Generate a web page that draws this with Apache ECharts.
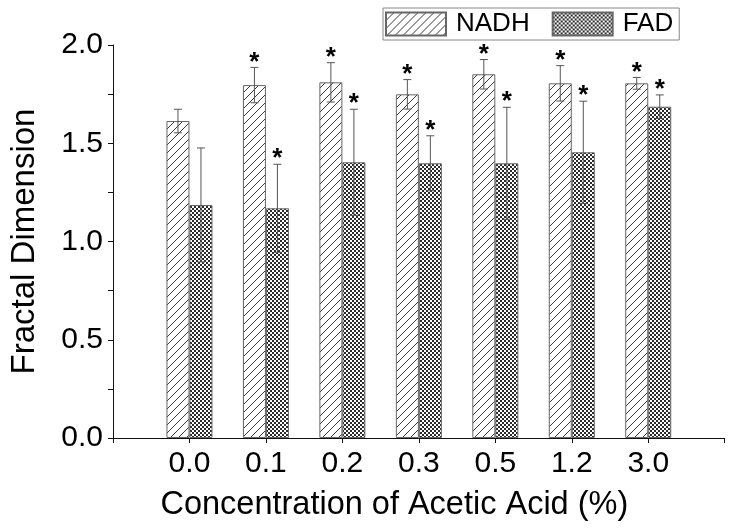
<!DOCTYPE html>
<html>
<head>
<meta charset="utf-8">
<script src="https://cdn.jsdelivr.net/npm/echarts@6/dist/echarts.min.js"></script>
<style>html,body{margin:0;padding:0;background:#fff}#c{width:734px;height:531px}</style>
</head>
<body>
<div id="c"></div>
<script>
var categories = ['0.0', '0.1', '0.2', '0.3', '0.5', '1.2', '3.0'];
var nadhValues = [1.613, 1.796, 1.810, 1.749, 1.851, 1.805, 1.805];
var nadhErrors = [0.06, 0.09, 0.10, 0.075, 0.075, 0.09, 0.03];
var nadhStars = [false, true, true, true, true, true, true];
var fadValues = [1.186, 1.169, 1.403, 1.398, 1.398, 1.454, 1.686];
var fadErrors = [0.29, 0.224, 0.27, 0.14, 0.285, 0.26, 0.06];
var fadStars = [false, true, true, true, true, true, true];
var yTicks = { min: 0, max: 2, interval: 0.5 };

var FONT = 'Liberation Sans, Arial, sans-serif';

function makePattern(fn, w, h, dark) {
  var cv = document.createElement('canvas');
  cv.width = w; cv.height = h;
  var ctx = cv.getContext('2d');
  ctx.fillStyle = '#ffffff';
  ctx.fillRect(0, 0, w, h);
  ctx.fillStyle = dark;
  for (var x = 0; x < w; x++) for (var y = 0; y < h; y++) if (fn(x, y)) ctx.fillRect(x, y, 1, 1);
  return cv;
}
var hatch = makePattern(function (x, y) { return (x + y) % 8 === 7; }, 8, 8, '#3a3a3a');
var cross = makePattern(function (x, y) { return (Math.floor(x / 2) + Math.floor(y / 2)) % 2 === 0; }, 4, 4, '#2a2a2a');

var axisCats = [''].concat(categories).concat(['']);

function errData(vals, errs, stars) {
  return vals.map(function (v, i) { return [i + 1, v, errs[i], stars[i] ? 1 : 0]; });
}

function makeErrRender(offset) {
  return function (params, api) {
    var x = api.value(0), v = api.value(1), e = api.value(2), s = api.value(3);
    var top = api.coord([x, v + e]);
    var bot = api.coord([x, v - e]);
    var cx = top[0] + offset;
    var cap = 4;
    var st = { stroke: '#555', lineWidth: 1 };
    var children = [
      { type: 'line', shape: { x1: cx, y1: top[1], x2: cx, y2: bot[1] }, style: st },
      { type: 'line', shape: { x1: cx - cap, y1: top[1], x2: cx + cap, y2: top[1] }, style: st },
      { type: 'line', shape: { x1: cx - cap, y1: bot[1], x2: cx + cap, y2: bot[1] }, style: st }
    ];
    if (s) {
      children.push({ type: 'text', x: cx, y: top[1] - 5, style: { text: '*', font: 'bold 26px ' + FONT, fill: '#000', align: 'center', verticalAlign: 'middle' } });
    }
    return { type: 'group', children: children };
  };
}

var chart = echarts.init(document.getElementById('c'), null, { renderer: 'canvas' });
chart.setOption({
  animation: false,
  backgroundColor: '#fff',
  grid: { left: 110, right: 9.3, top: 45, bottom: 93, containLabel: false },
  legend: {
    data: ['NADH', 'FAD'],
    left: 383, top: 8,
    icon: 'rect',
    itemWidth: 60, itemHeight: 23, itemGap: 22,
    padding: [3, 6, 3, 2],
    borderColor: '#888', borderWidth: 1,
    textStyle: { fontFamily: FONT, fontSize: 26, color: '#000', padding: [0, 0, 0, 5] }
  },
  xAxis: {
    type: 'category',
    data: axisCats,
    boundaryGap: false,
    name: 'Concentration of Acetic Acid (%)',
    nameLocation: 'middle',
    nameGap: 51,
    nameTextStyle: { fontFamily: FONT, fontSize: 32.5, color: '#000', padding: [0, 49, 0, 0] },
    axisLine: { lineStyle: { color: '#111', width: 1 } },
    axisTick: { show: true, interval: 0, length: 5, lineStyle: { color: '#111' } },
    axisLabel: { interval: 0, margin: 11, fontFamily: FONT, fontSize: 30, color: '#000' },
    splitLine: { show: false }
  },
  yAxis: {
    type: 'value',
    min: yTicks.min, max: yTicks.max, interval: yTicks.interval,
    name: 'Fractal Dimension',
    nameLocation: 'middle',
    nameGap: 72,
    nameTextStyle: { fontFamily: FONT, fontSize: 33, color: '#000' },
    axisLine: { show: true, lineStyle: { color: '#111', width: 1 } },
    axisTick: { show: true, length: 5, lineStyle: { color: '#111' } },
    minorTick: { show: true, splitNumber: 2, length: 5, lineStyle: { color: '#111' } },
    axisLabel: { margin: 10, fontFamily: FONT, fontSize: 30, color: '#000', formatter: function (v) { return v.toFixed(1); } },
    splitLine: { show: false }
  },
  series: [
    {
      name: 'NADH', type: 'bar', barWidth: 23, barGap: '0%',
      data: nadhValues.map(function (v, i) { return [i + 1, v]; }),
      itemStyle: { color: { image: hatch, repeat: 'repeat' }, borderColor: '#666', borderWidth: 1 },
      z: 2
    },
    {
      name: 'FAD', type: 'bar', barWidth: 23, barGap: '0%',
      data: fadValues.map(function (v, i) { return [i + 1, v]; }),
      itemStyle: { color: { image: cross, repeat: 'repeat' }, borderColor: '#666', borderWidth: 1 },
      z: 2
    },
    {
      name: 'NADH err', type: 'custom', renderItem: makeErrRender(-11.5),
      data: errData(nadhValues, nadhErrors, nadhStars), z: 5, silent: true
    },
    {
      name: 'FAD err', type: 'custom', renderItem: makeErrRender(11.5),
      data: errData(fadValues, fadErrors, fadStars), z: 5, silent: true
    }
  ]
});
</script>
</body>
</html>
